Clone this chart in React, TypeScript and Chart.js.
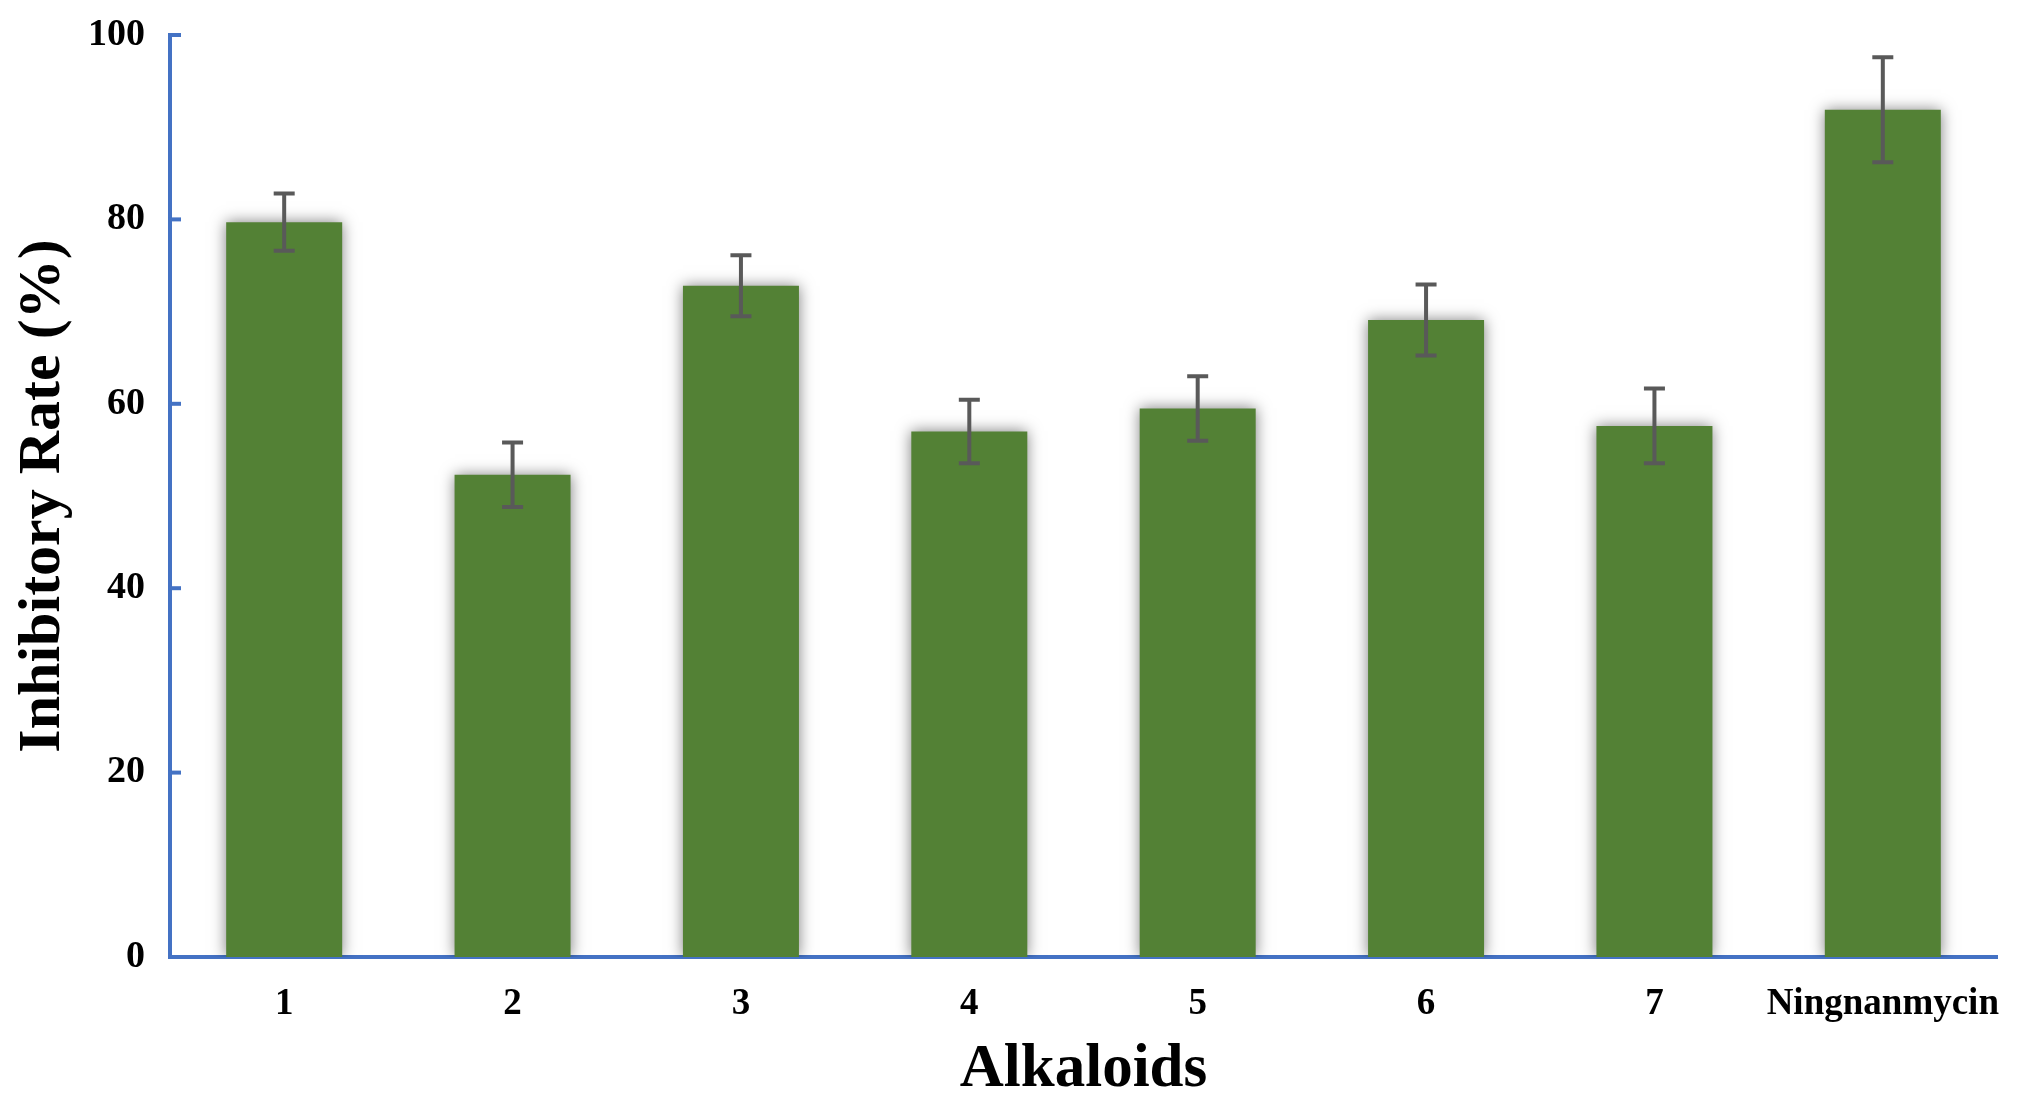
import React, { useEffect, useRef } from 'react';
import { Chart, registerables } from 'chart.js';

Chart.register(...registerables);

const categories = ['1', '2', '3', '4', '5', '6', '7', 'Ningnanmycin'];
const inhibitoryRate = [79.7, 52.3, 72.8, 57.0, 59.5, 69.1, 57.6, 91.9];
const errorMargins = [3.1, 3.5, 3.3, 3.45, 3.5, 3.85, 4.05, 5.7];
const yTickValues = [0, 20, 40, 60, 80, 100];

const FONT = "'Liberation Serif', 'Times New Roman', serif";
const AXIS_BLUE = '#4472C4';
const BAR_GREEN = '#538135';
const ERR_GRAY = '#595959';

export default function App() {
  const ref = useRef<HTMLCanvasElement>(null);

  useEffect(() => {
    const canvas = ref.current!;

    const shadowPlugin = {
      id: 'barShadow',
      beforeDatasetDraw(chart: any) {
        const ctx = chart.ctx;
        ctx.save();
        ctx.shadowColor = 'rgba(0,0,0,0.5)';
        ctx.shadowBlur = 14;
        ctx.shadowOffsetX = 0;
        ctx.shadowOffsetY = 0;
      },
      afterDatasetDraw(chart: any) {
        chart.ctx.restore();
      },
    };

    const errorBarPlugin = {
      id: 'errorBars',
      afterDatasetsDraw(chart: any) {
        const ctx = chart.ctx;
        const yScale = chart.scales.y;
        const meta = chart.getDatasetMeta(0);
        ctx.save();
        ctx.strokeStyle = ERR_GRAY;
        ctx.lineWidth = 4;
        meta.data.forEach((bar: any, i: number) => {
          const v = inhibitoryRate[i];
          const e = errorMargins[i];
          const yTop = yScale.getPixelForValue(v + e);
          const yBot = yScale.getPixelForValue(v - e);
          const x = bar.x;
          const half = 10.5;
          ctx.beginPath();
          ctx.moveTo(x, yTop);
          ctx.lineTo(x, yBot);
          ctx.moveTo(x - half, yTop);
          ctx.lineTo(x + half, yTop);
          ctx.moveTo(x - half, yBot);
          ctx.lineTo(x + half, yBot);
          ctx.stroke();
        });
        ctx.restore();
      },
    };

    const innerTicksPlugin = {
      id: 'innerTicks',
      afterDraw(chart: any) {
        const ctx = chart.ctx;
        const yScale = chart.scales.y;
        const left = chart.chartArea.left;
        ctx.save();
        ctx.strokeStyle = AXIS_BLUE;
        ctx.lineWidth = 4;
        yTickValues.forEach((v) => {
          const py = yScale.getPixelForValue(v);
          ctx.beginPath();
          ctx.moveTo(left - 2, py);
          ctx.lineTo(left + 11, py);
          ctx.stroke();
        });
        ctx.restore();
      },
    };

    const chart = new Chart(canvas, {
      type: 'bar',
      data: {
        labels: categories,
        datasets: [
          {
            label: 'Inhibitory Rate (%)',
            data: inhibitoryRate,
            backgroundColor: BAR_GREEN,
            borderWidth: 0,
            categoryPercentage: 1,
            barPercentage: 0.508,
          },
        ],
      },
      options: {
        responsive: false,
        animation: false,
        devicePixelRatio: 1,
        layout: { padding: { left: 0, right: 45, top: 35, bottom: 0 } },
        plugins: {
          legend: { display: false },
          tooltip: { enabled: false },
          title: { display: false },
        },
        scales: {
          x: {
            z: 1,
            grid: { display: false, drawTicks: false },
            border: { display: true, color: AXIS_BLUE, width: 4 },
            ticks: {
              color: '#000',
              padding: 25,
              maxRotation: 0,
              autoSkip: false,
              font: { family: FONT, size: 37, weight: 'bold', lineHeight: 1.2 },
            },
            title: {
              display: true,
              text: 'Alkaloids',
              color: '#000',
              padding: { top: 0, bottom: 3 },
              font: { family: FONT, size: 61, weight: 'bold', lineHeight: 1 },
            },
            afterFit(scale: any) {
              scale.height = 147;
            },
          },
          y: {
            z: 1,
            min: 0,
            max: 100,
            grid: { display: false, drawTicks: false },
            border: { display: true, color: AXIS_BLUE, width: 4 },
            ticks: {
              stepSize: 20,
              color: '#000',
              padding: 25,
              font: { family: FONT, size: 38, weight: 'bold', lineHeight: 1.2 },
            },
            title: {
              display: true,
              text: 'Inhibitory Rate (%)',
              color: '#000',
              padding: { top: 13, bottom: 0 },
              font: { family: FONT, size: 60, weight: 'bold', lineHeight: 1 },
            },
            afterFit(scale: any) {
              scale.width = 170;
              scale.paddingTop = 0;
              scale.paddingBottom = 0;
            },
          },
        },
      },
      plugins: [shadowPlugin, errorBarPlugin, innerTicksPlugin],
    } as any);

    return () => chart.destroy();
  }, []);

  return (
    <div style={{ position: 'fixed', left: 0, top: 0, width: 2042, height: 1104, background: '#fff' }}>
      <canvas ref={ref} width={2042} height={1104} style={{ display: 'block', width: 2042, height: 1104 }} />
    </div>
  );
}
